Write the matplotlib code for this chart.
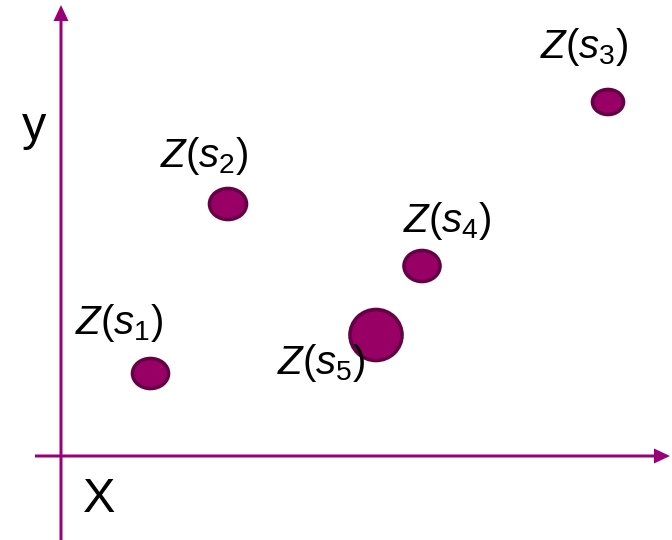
import matplotlib
matplotlib.use('Agg')
import matplotlib.pyplot as plt
from matplotlib.patches import Ellipse

plt.rcParams['font.family'] = 'Liberation Sans'
plt.rcParams['mathtext.fontset'] = 'custom'
plt.rcParams['mathtext.rm'] = 'Liberation Sans'
plt.rcParams['mathtext.it'] = 'Liberation Sans:italic'

# sample locations s_i and their marker sizes
names = [r'$Z(s_1)$', r'$Z(s_2)$', r'$Z(s_3)$', r'$Z(s_4)$', r'$Z(s_5)$']
xs = [89.5, 167, 547, 361, 315]
ys = [82.5, 252, 354, 190, 121]
widths = [36, 37, 31, 36, 52]
heights = [30, 31, 25, 31, 51]

# label anchors (left, baseline)
lab_x = [14, 99, 479, 342, 216]
lab_y = [122, 289, 398, 224, 82]

axis_col = '#990077'
fill_col = '#990066'
edge_col = '#660044'

fig = plt.figure(figsize=(6.72, 5.4), dpi=100)
ax = fig.add_axes([0, 0, 1, 1])
ax.set_xlim(-61, 611)
ax.set_ylim(-84, 456)
ax.axis('off')

# axes drawn as arrows
ax.arrow(0, -84, 0, 535, width=3, head_width=15, head_length=16,
         length_includes_head=True, color=axis_col, lw=0)
ax.arrow(-26, 0, 635, 0, width=3, head_width=15, head_length=16,
         length_includes_head=True, color=axis_col, lw=0)

for x, y, w, h in zip(xs, ys, widths, heights):
    ax.add_patch(Ellipse((x, y), w, h, facecolor=fill_col,
                         edgecolor=edge_col, lw=2.6, zorder=3))

for n, tx, ty in zip(names, lab_x, lab_y):
    ax.text(tx, ty, n, fontsize=29, ha='left', va='baseline', zorder=4)

ax.text(-27, 316, 'y', fontsize=35, ha='center', va='baseline')
ax.text(38, -56, 'X', fontsize=35, ha='center', va='baseline')

fig.savefig('out.png', dpi=100)
